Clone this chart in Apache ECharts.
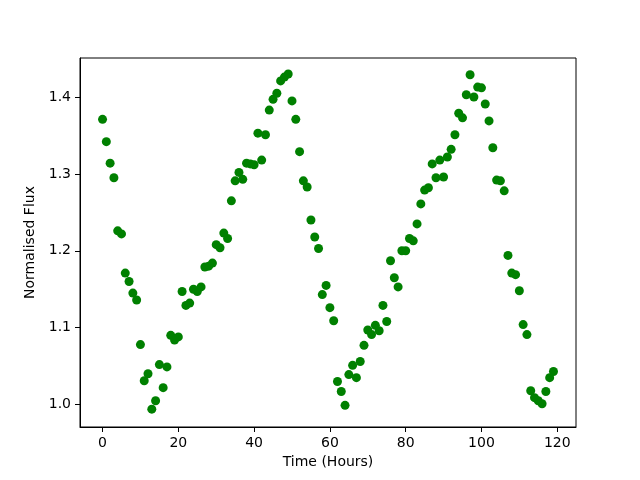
<!DOCTYPE html>
<html>
<head>
<meta charset="utf-8">
<script src="https://cdn.jsdelivr.net/npm/echarts@6/dist/echarts.min.js"></script>
<style>
  html, body { margin: 0; padding: 0; background: #fff; }
  #chart { width: 640px; height: 480px; }
</style>
</head>
<body>
<div id="chart"></div>
<script>
// hours 0..119, one reading per hour
const hours = [];
for (let h = 0; h < 120; h++) hours.push(h);

const flux = [
  1.371, 1.342, 1.314, 1.295, 1.226, 1.222, 1.171, 1.160, 1.145, 1.136,
  1.078, 1.031, 1.040, 0.994, 1.005, 1.052, 1.022, 1.049, 1.090, 1.084,
  1.088, 1.147, 1.129, 1.132, 1.150, 1.147, 1.153, 1.179, 1.180, 1.184,
  1.208, 1.204, 1.223, 1.216, 1.265, 1.291, 1.302, 1.293, 1.314, 1.313,
  1.312, 1.353, 1.318, 1.351, 1.383, 1.397, 1.405, 1.421, 1.426, 1.430,
  1.395, 1.371, 1.329, 1.291, 1.283, 1.240, 1.218, 1.203, 1.143, 1.155,
  1.126, 1.109, 1.030, 1.017, 0.999, 1.039, 1.051, 1.035, 1.056, 1.077,
  1.097, 1.091, 1.103, 1.096, 1.129, 1.108, 1.187, 1.165, 1.153, 1.200,
  1.200, 1.216, 1.213, 1.235, 1.261, 1.279, 1.282, 1.313, 1.295, 1.318,
  1.296, 1.322, 1.332, 1.351, 1.379, 1.373, 1.403, 1.429, 1.400, 1.413,
  1.412, 1.391, 1.369, 1.334, 1.292, 1.291, 1.278, 1.194, 1.171, 1.169,
  1.148, 1.104, 1.091, 1.018, 1.009, 1.005, 1.001, 1.017, 1.035, 1.043
];

const xTicks = [0, 20, 40, 60, 80, 100, 120];
const yTicks = [1.0, 1.1, 1.2, 1.3, 1.4];

const points = hours.map((h, i) => [h, flux[i]]);

const font = 'DejaVu Sans';
const axisCommon = {
  axisLine: { show: true, onZero: false, lineStyle: { color: '#000', width: 1 } },
  axisTick: { show: true, length: 5, lineStyle: { color: '#000' } },
  splitLine: { show: false },
  nameLocation: 'middle',
  nameTextStyle: { color: '#000', fontFamily: font, fontSize: 14 },
};

const myChart = echarts.init(document.getElementById('chart'));
myChart.setOption({
  animation: false,
  backgroundColor: '#fff',
  grid: {
    left: 80, right: 64, top: 58, bottom: 53,
    show: true, borderColor: '#000', borderWidth: 1,
  },
  xAxis: Object.assign({}, axisCommon, {
    type: 'value',
    min: -5.95,
    max: 124.95,
    name: 'Time (Hours)',
    nameGap: 28,
    axisTick: Object.assign({}, axisCommon.axisTick, { customValues: xTicks }),
    axisLabel: {
      customValues: xTicks,
      margin: 9,
      color: '#000', fontFamily: font, fontSize: 14,
    },
  }),
  yAxis: Object.assign({}, axisCommon, {
    type: 'value',
    min: 0.9708,
    max: 1.4508,
    name: 'Normalised Flux',
    nameGap: 39,
    axisTick: Object.assign({}, axisCommon.axisTick, { customValues: yTicks }),
    axisLabel: {
      customValues: yTicks,
      margin: 9,
      formatter: v => v.toFixed(1),
      color: '#000', fontFamily: font, fontSize: 14,
    },
  }),
  series: [{
    type: 'scatter',
    data: points,
    symbol: 'circle',
    symbolSize: 9,
    itemStyle: { color: '#008000', opacity: 1 },
  }],
});
</script>
</body>
</html>
